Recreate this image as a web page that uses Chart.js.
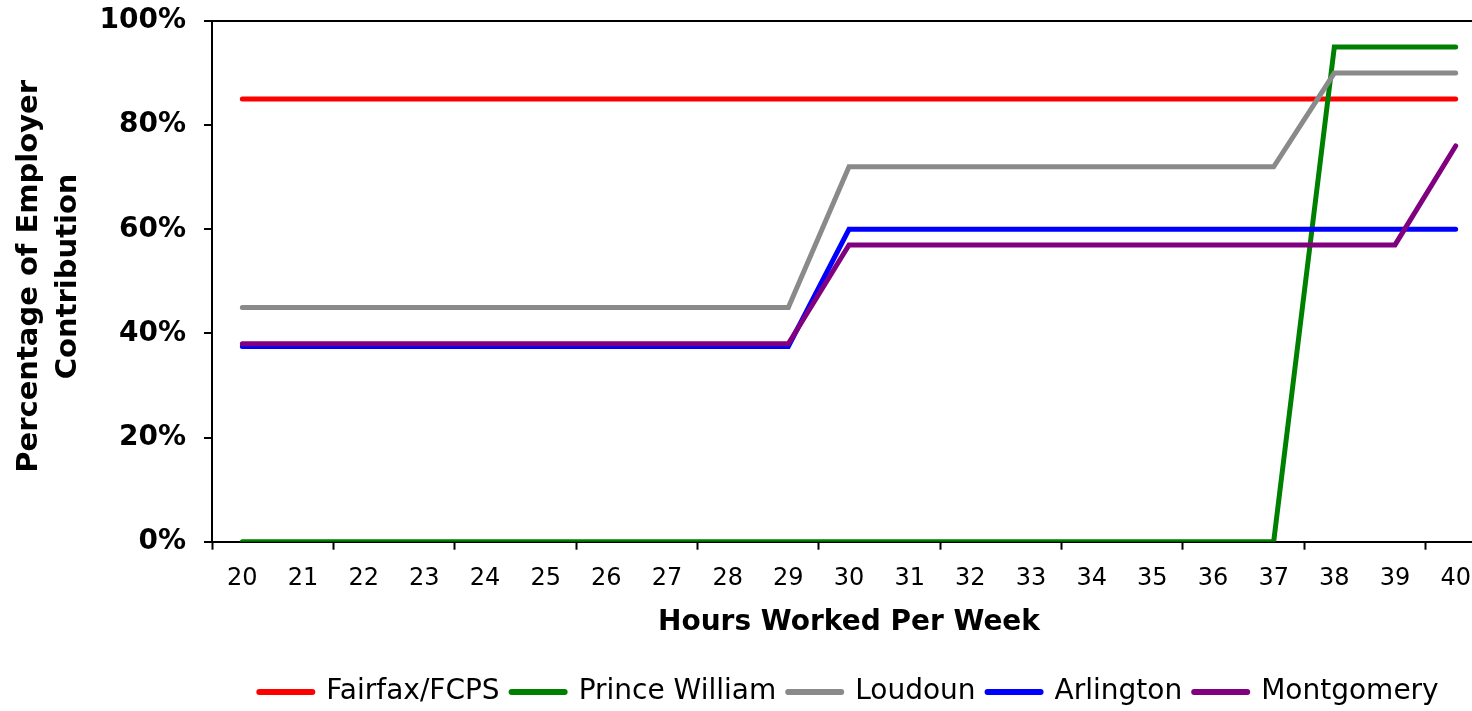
<!DOCTYPE html>
<html>
<head>
<meta charset="utf-8">
<title>Employer Contribution by Hours Worked</title>
<script src="https://cdn.jsdelivr.net/npm/chart.js@4.4.1/dist/chart.umd.min.js"></script>
<style>
  html, body { margin: 0; padding: 0; background: #fff; overflow: hidden; }
  #wrap { width: 1500px; height: 711px; }
</style>
</head>
<body>
<div id="wrap"><canvas id="chart" width="1500" height="711"></canvas></div>
<script>
// Hours worked per week (category axis)
const hours = ['20','21','22','23','24','25','26','27','28','29','30','31','32','33','34','35','36','37','38','39','40'];

// Percentage of employer contribution for each jurisdiction
const fairfax      = [85,85,85,85,85,85,85,85,85,85,85,85,85,85,85,85,85,85,85,85,85];
const princeWilliam= [0,0,0,0,0,0,0,0,0,0,0,0,0,0,0,0,0,0,95,95,95];
const loudoun      = [45,45,45,45,45,45,45,45,45,45,72,72,72,72,72,72,72,72,90,90,90];
const arlington    = [37.5,37.5,37.5,37.5,37.5,37.5,37.5,37.5,37.5,37.5,60,60,60,60,60,60,60,60,60,60,60];
const montgomery   = [38,38,38,38,38,38,38,38,38,38,57,57,57,57,57,57,57,57,57,57,76];

const seriesNames  = ['Fairfax/FCPS', 'Prince William', 'Loudoun', 'Arlington', 'Montgomery'];
const seriesColors = ['#FF0000', '#008000', '#8A8A8A', '#0000FF', '#800080'];
const seriesValues = [fairfax, princeWilliam, loudoun, arlington, montgomery];

const yTicks = [0, 20, 40, 60, 80, 100];
const xTitle = 'Hours Worked Per Week';
const yTitleLines = ['Percentage of Employer', 'Contribution'];

const FONT = '"DejaVu Sans", Verdana, sans-serif';
Chart.defaults.font.family = FONT;
Chart.defaults.color = '#000';

const datasets = seriesNames.map((name, i) => ({
  label: name,
  data: seriesValues[i],
  borderColor: seriesColors[i],
  backgroundColor: seriesColors[i],
  borderWidth: 5,
  borderCapStyle: 'round',
  borderJoinStyle: 'miter',
  pointRadius: 0,
  pointHoverRadius: 0,
  tension: 0,
  fill: false,
  // later series are painted over earlier ones
  order: seriesNames.length - 1 - i
}));

// Rotated two-line title for the value axis
const yTitlePlugin = {
  id: 'valueAxisTitle',
  afterDraw(chart) {
    const { ctx, chartArea } = chart;
    const cy = (chartArea.top + chartArea.bottom) / 2 - 5;
    ctx.save();
    ctx.font = 'bold 29px ' + FONT;
    ctx.fillStyle = '#000';
    ctx.textAlign = 'center';
    ctx.textBaseline = 'middle';
    yTitleLines.forEach((line, i) => {
      ctx.save();
      ctx.translate(29 + i * 39, cy);
      ctx.rotate(-Math.PI / 2);
      ctx.fillText(line, 0, 0);
      ctx.restore();
    });
    ctx.restore();
  }
};

new Chart(document.getElementById('chart'), {
  type: 'line',
  data: { labels: hours, datasets },
  plugins: [yTitlePlugin],
  options: {
    responsive: false,
    animation: false,
    events: [],
    layout: { padding: { top: 21, right: 14, bottom: -5, left: 0 } },
    scales: {
      x: {
        type: 'category',
        offset: true,
        border: { display: true, color: '#000', width: 2 },
        grid: {
          offset: true,
          drawOnChartArea: false,
          drawTicks: true,
          tickLength: 8,
          tickWidth: 2,
          tickColor: (c) => (c.index !== undefined && c.index % 2 === 0) ? '#000' : 'rgba(0,0,0,0)'
        },
        ticks: {
          autoSkip: false,
          maxRotation: 0,
          minRotation: 0,
          padding: 15,
          color: '#000',
          font: { size: 24 }
        },
        title: {
          display: true,
          text: xTitle,
          color: '#000',
          font: { size: 28, weight: 'bold', lineHeight: 1.0 },
          padding: { top: 0.5, bottom: 29 }
        }
      },
      y: {
        min: 0,
        max: 100,
        afterFit(scale) {
          scale.width = 212;
          scale.paddingTop = 0;
          scale.paddingBottom = 0;
        },
        afterBuildTicks(scale) { scale.ticks = yTicks.map(v => ({ value: v })); },
        border: { display: true, color: '#000', width: 2 },
        grid: {
          drawOnChartArea: true,
          lineWidth: 2,
          color: (c) => (c.tick && c.tick.value === 100) ? '#000' : 'rgba(0,0,0,0)',
          tickColor: '#000',
          tickLength: 8,
          tickWidth: 2
        },
        ticks: {
          padding: 18,
          color: '#000',
          font: { size: 28, weight: 'bold' },
          callback: (v) => v + '%'
        },
        title: { display: false }
      }
    },
    plugins: {
      tooltip: { enabled: false },
      legend: {
        display: true,
        position: 'bottom',
        fullSize: false,
        labels: {
          usePointStyle: true,
          pointStyle: 'line',
          pointStyleWidth: 53,
          padding: 12,
          color: '#000',
          font: { size: 28 },
          sort: (a, b) => a.datasetIndex - b.datasetIndex,
          generateLabels(chart) {
            const items = Chart.defaults.plugins.legend.labels.generateLabels(chart);
            return items.map(it => Object.assign(it, {
              lineWidth: 6,
              lineCap: 'round',
              strokeStyle: chart.data.datasets[it.datasetIndex].borderColor,
              fillStyle: chart.data.datasets[it.datasetIndex].borderColor
            }));
          }
        }
      }
    }
  }
});
</script>
</body>
</html>
